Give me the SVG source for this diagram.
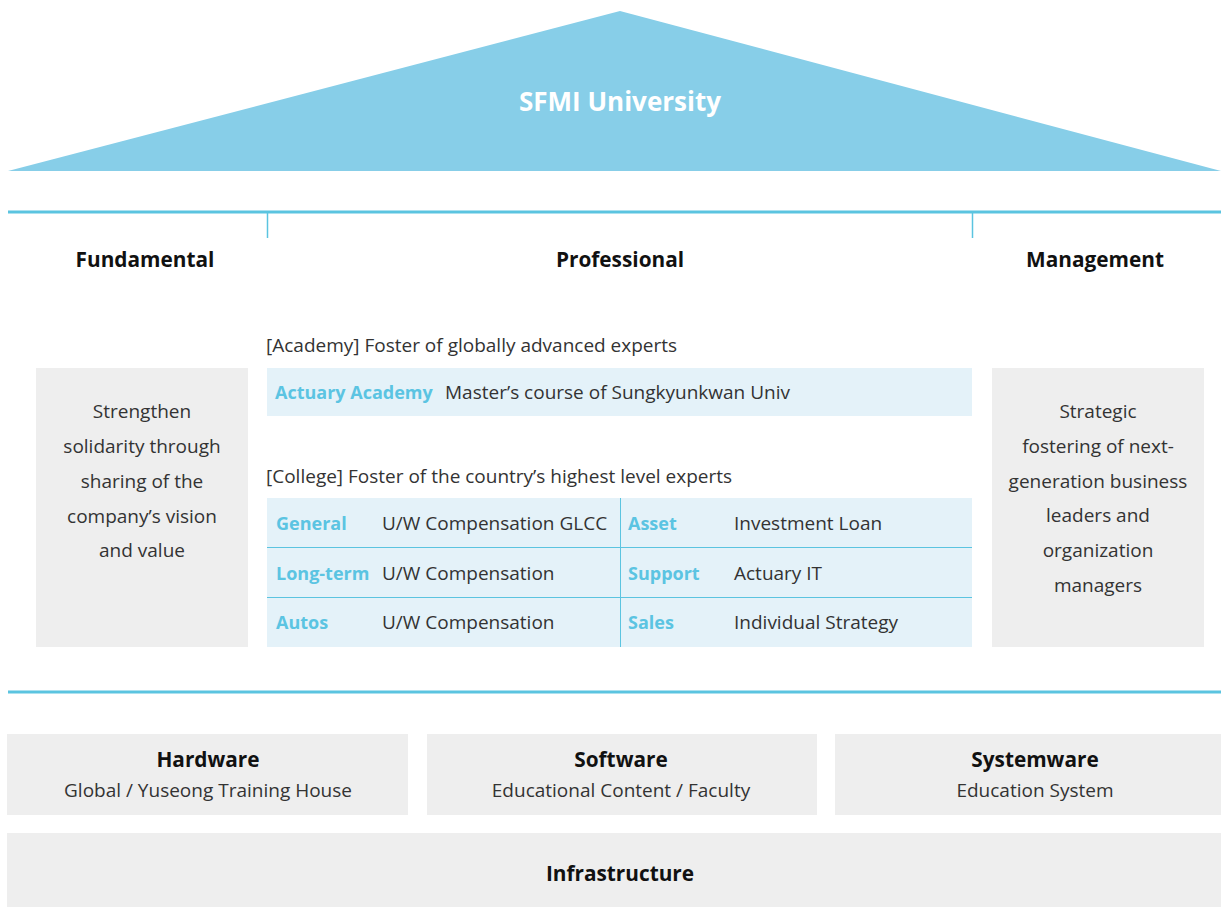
<svg xmlns="http://www.w3.org/2000/svg" width="1221" height="907" viewBox="0 0 1221 907">
  <style>
    text { font-family: "Open Sans", "Noto Sans", "Liberation Sans", sans-serif; fill: #333333; }
    .title { font-size: 26px; font-weight: bold; fill: #ffffff; text-anchor: middle; }
    .head { font-size: 20.8px; font-weight: bold; fill: #111111; text-anchor: middle; }
    .body { font-size: 19px; }
    .mid { text-anchor: middle; }
    .lbl { font-size: 18px; font-weight: bold; fill: #5bc4e2; }
    .grey { fill: #eeeeee; }
    .pale { fill: #e4f2f9; }
    .rule { stroke: #5bc4e0; fill: none; }
  </style>

  <!-- roof -->
  <g id="roof">
    <polygon points="620,11 1221,171 8,171" fill="#87cee8"/>
    <text class="title" x="620" y="111">SFMI University</text>
  </g>

  <!-- beams and dividers -->
  <g id="connectors">
    <line class="rule" x1="8" y1="212" x2="1221" y2="212" stroke-width="3"/>
    <line class="rule" x1="267.5" y1="212" x2="267.5" y2="238" stroke-width="1.5"/>
    <line class="rule" x1="972.5" y1="212" x2="972.5" y2="238" stroke-width="1.5"/>
    <line class="rule" x1="8" y1="692" x2="1221" y2="692" stroke-width="3"/>
  </g>

  <!-- column headings -->
  <g id="headings">
    <text class="head" x="145" y="267">Fundamental</text>
    <text class="head" x="620" y="267">Professional</text>
    <text class="head" x="1095" y="267">Management</text>
  </g>

  <!-- fundamental pillar -->
  <g id="fundamental">
    <rect class="grey" x="36" y="368" width="212" height="279"/>
    <text class="body mid" x="142" y="418">Strengthen</text>
    <text class="body mid" x="142" y="453">solidarity through</text>
    <text class="body mid" x="142" y="488">sharing of the</text>
    <text class="body mid" x="142" y="523">company’s vision</text>
    <text class="body mid" x="142" y="557">and value</text>
  </g>

  <!-- management pillar -->
  <g id="management">
    <rect class="grey" x="992" y="368" width="212" height="279"/>
    <text class="body mid" x="1098" y="418">Strategic</text>
    <text class="body mid" x="1098" y="453">fostering of next-</text>
    <text class="body mid" x="1098" y="488">generation business</text>
    <text class="body mid" x="1098" y="522">leaders and</text>
    <text class="body mid" x="1098" y="557">organization</text>
    <text class="body mid" x="1098" y="592">managers</text>
  </g>

  <!-- academy -->
  <g id="academy">
    <text class="body" x="266" y="352">[Academy] Foster of globally advanced experts</text>
    <rect class="pale" x="267" y="368" width="705" height="48"/>
    <text class="lbl" x="275" y="399">Actuary Academy</text>
    <text class="body" x="445" y="399">Master’s course of Sungkyunkwan Univ</text>
  </g>

  <!-- college -->
  <g id="college">
    <text class="body" x="266" y="483">[College] Foster of the country’s highest level experts</text>
    <rect class="pale" x="267" y="498" width="705" height="149"/>
    <line class="rule" x1="267" y1="547.5" x2="972" y2="547.5" stroke-width="1"/>
    <line class="rule" x1="267" y1="597.5" x2="972" y2="597.5" stroke-width="1"/>
    <line class="rule" x1="620.5" y1="498" x2="620.5" y2="647" stroke-width="1"/>
    <text class="lbl" x="276" y="530">General</text>
    <text class="body" x="382" y="530">U/W Compensation GLCC</text>
    <text class="lbl" x="628" y="530">Asset</text>
    <text class="body" x="734" y="530">Investment Loan</text>
    <text class="lbl" x="276" y="580">Long-term</text>
    <text class="body" x="382" y="580">U/W Compensation</text>
    <text class="lbl" x="628" y="580">Support</text>
    <text class="body" x="734" y="580">Actuary IT</text>
    <text class="lbl" x="276" y="629">Autos</text>
    <text class="body" x="382" y="629">U/W Compensation</text>
    <text class="lbl" x="628" y="629">Sales</text>
    <text class="body" x="734" y="629">Individual Strategy</text>
  </g>

  <!-- foundation -->
  <g id="hardware">
    <rect class="grey" x="7" y="734" width="401" height="81"/>
    <text class="head" x="208" y="767">Hardware</text>
    <text class="body mid" x="208" y="797">Global / Yuseong Training House</text>
  </g>
  <g id="software">
    <rect class="grey" x="427" y="734" width="390" height="81"/>
    <text class="head" x="621" y="767">Software</text>
    <text class="body mid" x="621" y="797">Educational Content / Faculty</text>
  </g>
  <g id="systemware">
    <rect class="grey" x="835" y="734" width="386" height="81"/>
    <text class="head" x="1035" y="767">Systemware</text>
    <text class="body mid" x="1035" y="797">Education System</text>
  </g>
  <g id="infrastructure">
    <rect class="grey" x="7" y="833" width="1214" height="74"/>
    <text class="head" x="620" y="881">Infrastructure</text>
  </g>
</svg>
